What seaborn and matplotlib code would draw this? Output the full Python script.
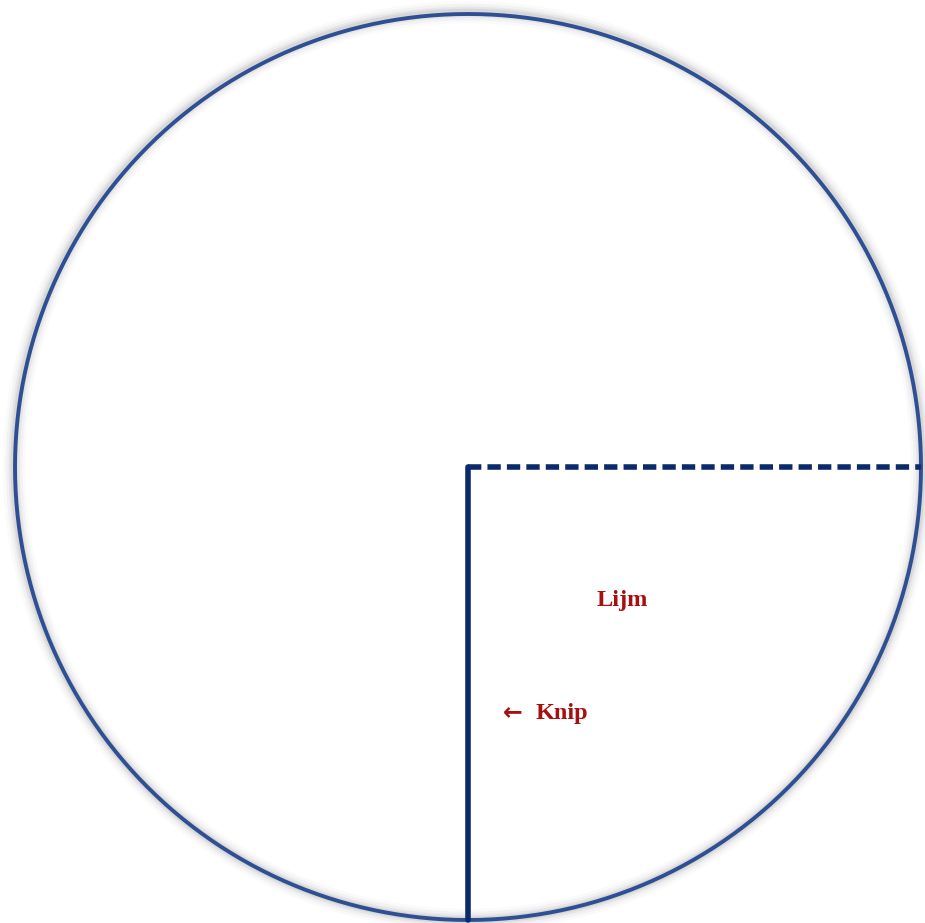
import numpy as np
import matplotlib
matplotlib.use("Agg")
import matplotlib.pyplot as plt
import seaborn as sns

# geometry in units of the circle radius, centre at (0, 0)
glue_x = [0.0, 1.0]      # dashed fold line to the right
glue_y = [0.0, 0.0]
cut_x = [0.0, 0.0]       # solid cut line downwards
cut_y = [0.0, -1.0]
labels = ["Lijm", "Knip"]
label_x = [0.340, 0.2075]
label_y = [-0.294, -0.545]
arrow_x, arrow_y = 0.099, -0.542

sns.set_style("white")
fig = plt.figure(figsize=(9.25, 9.23), dpi=100)
ax = fig.add_axes([0, 0, 1, 1])

theta = np.linspace(0, 2 * np.pi, 721)
ring_x = np.cos(theta)
ring_y = np.sin(theta)

# soft grey shadow round the disc
for w, a in [(16, 0.04), (12, 0.06), (8, 0.10), (5, 0.14)]:
    ax.plot(ring_x * 1.002, ring_y * 1.002 + 0.002, color="grey",
            lw=w, alpha=a, solid_capstyle="round")
ax.fill(ring_x, ring_y, color="white", zorder=1)
sns.lineplot(x=ring_x, y=ring_y, sort=False, estimator=None,
             color="#2f4f94", lw=2.8, ax=ax, zorder=2)

sns.lineplot(x=glue_x, y=glue_y, sort=False, estimator=None,
             color="#0b2a6b", lw=4.0, ax=ax, zorder=3,
             linestyle=(0, (2.4, 1.1)))
ax.lines[-1].set_dash_capstyle("butt")
sns.lineplot(x=cut_x, y=cut_y, sort=False, estimator=None,
             color="#0b2a6b", lw=4.0, ax=ax, zorder=3)

red = "#a80f0f"
for t, x, y in zip(labels, label_x, label_y):
    ax.text(x, y, t, ha="center", va="center", color=red,
            fontsize=17.5, fontweight="bold",
            family=["Liberation Serif", "DejaVu Serif"], zorder=4)
ax.text(arrow_x, arrow_y, "\u2190", ha="center", va="center", color=red,
        fontsize=17, fontweight="bold", family="DejaVu Sans", zorder=4)

ax.set_xlim(-468 / 453, (925 - 468) / 453)
ax.set_ylim(-(923 - 467) / 453, 467 / 453)
ax.axis("off")

fig.savefig("out.png", dpi=100, facecolor="white")
